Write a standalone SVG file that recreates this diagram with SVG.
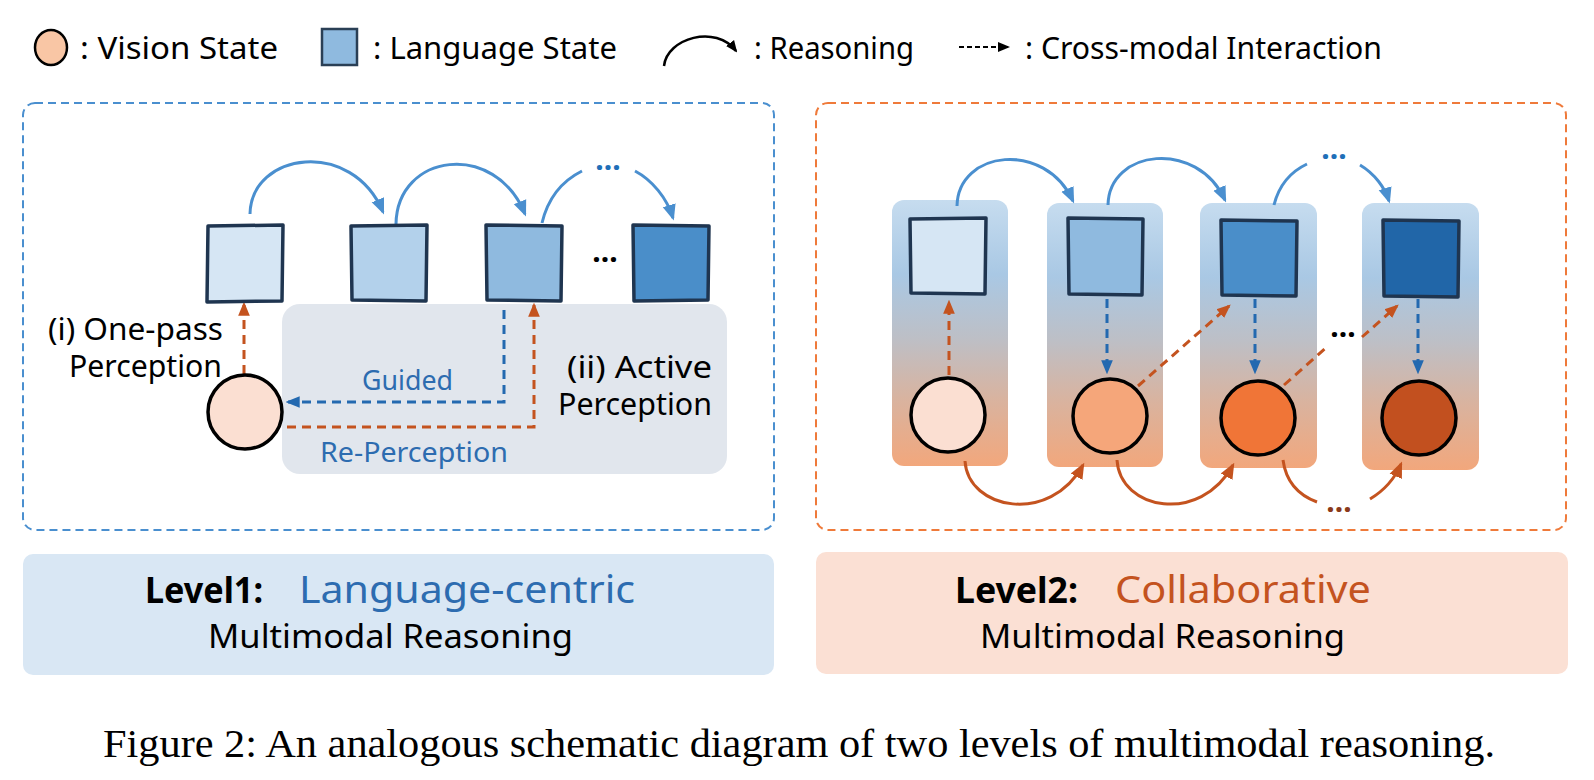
<svg xmlns="http://www.w3.org/2000/svg" width="1594" height="780" viewBox="0 0 1594 780">
<style>
.t { font-family: 'Noto Sans', 'DejaVu Sans', sans-serif; fill:#000; }
.cap { font-family: 'Liberation Serif', 'Times New Roman', serif; fill:#000; }
.sq { stroke:#1f3550; stroke-width:3.5; stroke-linejoin:round; }
.vc { stroke:#000; stroke-width:3.5; }
.arcB { fill:none; stroke:#4a8fcf; stroke-width:3; marker-end:url(#mB); }
.arcO { fill:none; stroke:#c4531f; stroke-width:3; marker-end:url(#mO); }
.arcBn { fill:none; stroke:#4a8fcf; stroke-width:3; }
.arcOn { fill:none; stroke:#c4531f; stroke-width:3; }
.dB { fill:none; stroke:#2369b0; stroke-width:3; stroke-dasharray:9 6; marker-end:url(#mDB); }
.dO { fill:none; stroke:#c4531f; stroke-width:3; stroke-dasharray:9 6; marker-end:url(#mDO); }
.dOn { fill:none; stroke:#c4531f; stroke-width:3; stroke-dasharray:9 6; }
.dots { font-family: 'Noto Sans', sans-serif; font-weight:bold; font-size:30px; text-anchor:middle; }
</style>
<defs>
<marker id="mB" viewBox="0 0 12 12" refX="10" refY="6" markerWidth="16" markerHeight="16" markerUnits="userSpaceOnUse" orient="auto"><path d="M0,1 L12,6 L0,11 Z" fill="#4a8fcf"/></marker>
<marker id="mO" viewBox="0 0 12 12" refX="10" refY="6" markerWidth="16" markerHeight="16" markerUnits="userSpaceOnUse" orient="auto"><path d="M0,1 L12,6 L0,11 Z" fill="#c4531f"/></marker>
<marker id="mDB" viewBox="0 0 12 12" refX="10" refY="6" markerWidth="14" markerHeight="14" markerUnits="userSpaceOnUse" orient="auto"><path d="M0,1 L12,6 L0,11 Z" fill="#2369b0"/></marker>
<marker id="mDO" viewBox="0 0 12 12" refX="10" refY="6" markerWidth="14" markerHeight="14" markerUnits="userSpaceOnUse" orient="auto"><path d="M0,1 L12,6 L0,11 Z" fill="#c4531f"/></marker>
<marker id="mK" viewBox="0 0 12 12" refX="10" refY="6" markerWidth="12" markerHeight="12" markerUnits="userSpaceOnUse" orient="auto"><path d="M0,1 L12,6 L0,11 Z" fill="#000"/></marker>
<linearGradient id="col" x1="0" y1="0" x2="0" y2="1">
<stop offset="0" stop-color="#c6dcef"/>
<stop offset="0.28" stop-color="#a9c8e4"/>
<stop offset="0.52" stop-color="#bdbfc6"/>
<stop offset="0.75" stop-color="#d9b39f"/>
<stop offset="1" stop-color="#f2a77c"/>
</linearGradient>
</defs>
<rect width="1594" height="780" fill="#fff"/>

<!-- legend -->
<g id="legend">
<ellipse cx="51" cy="47.5" rx="16" ry="17.5" fill="#f9c6a5" stroke="#000" stroke-width="2.5"/>
<text class="t" x="80" y="59" font-size="30" textLength="198" lengthAdjust="spacingAndGlyphs">: Vision State</text>
<rect x="322" y="29" width="35" height="36" fill="#8fbadf" stroke="#2a3f55" stroke-width="2.5"/>
<text class="t" x="373" y="59" font-size="30" textLength="244" lengthAdjust="spacingAndGlyphs">: Language State</text>
<path d="M664,66 C667,38 716,24 736,51" fill="none" stroke="#000" stroke-width="2.5" marker-end="url(#mK)"/>
<text class="t" x="754" y="59" font-size="30" textLength="160" lengthAdjust="spacingAndGlyphs">: Reasoning</text>
<path d="M959,47 L1008,47" fill="none" stroke="#000" stroke-width="2" stroke-dasharray="5 3" marker-end="url(#mK)"/>
<text class="t" x="1025" y="59" font-size="30" textLength="357" lengthAdjust="spacingAndGlyphs">: Cross-modal Interaction</text>
</g>

<!-- panel frames -->
<g id="panel1-frame">
<rect x="23" y="103" width="751" height="427" rx="12" fill="none" stroke="#4a8fcf" stroke-width="2" stroke-dasharray="8 5"/>
<rect x="282" y="304" width="445" height="170" rx="18" fill="#e1e6ed"/>
</g>
<g id="panel2-frame">
<rect x="816" y="103" width="750" height="427" rx="12" fill="none" stroke="#ef7a3a" stroke-width="2" stroke-dasharray="8 5"/>
<rect x="892" y="200" width="116" height="266" rx="12" fill="url(#col)"/>
<rect x="1047" y="203" width="116" height="264" rx="12" fill="url(#col)"/>
<rect x="1200" y="203" width="117" height="265" rx="12" fill="url(#col)"/>
<rect x="1362" y="203" width="117" height="267" rx="12" fill="url(#col)"/>
</g>

<!-- connectors -->
<g id="connectors">
<path class="arcB" d="M250,214 C251,152 352,138 383,212"/>
<path class="arcB" d="M396,224 C397,153 495,140 525,214"/>
<path class="arcBn" d="M542,223 C548,198 562,181 582,171"/>
<path class="arcB" d="M635,171 C652,180 667,198 673,218"/>
<path class="dO" d="M244,374 L244,304"/>
<path class="dB" d="M504,310 L504,402 L288,402"/>
<path class="dO" d="M287,427 L534,427 L534,305"/>

<path class="arcB" d="M957,206 C958,150 1045,140 1073,201"/>
<path class="arcB" d="M1108,205 C1109,149 1197,139 1225,200"/>
<path class="arcBn" d="M1274,205 C1279,185 1290,172 1307,164"/>
<path class="arcB" d="M1360,165 C1375,174 1385,188 1389,201"/>
<path class="arcO" d="M965,461 C968,510 1050,525 1083,465"/>
<path class="arcO" d="M1117,460 C1120,510 1200,525 1233,465"/>
<path class="arcOn" d="M1283,460 C1286,482 1298,495 1317,502"/>
<path class="arcO" d="M1370,499 C1385,490 1395,478 1401,464"/>
<path class="dO" d="M949,375 L949,302"/>
<path class="dB" d="M1107,299 L1107,372"/>
<path class="dB" d="M1255,299 L1255,372"/>
<path class="dB" d="M1418,299 L1418,372"/>
<path class="dO" d="M1138,386 L1229,306"/>
<path class="dOn" d="M1284,385 L1328,346"/>
<path class="dO" d="M1362,337 L1397,306"/>
</g>

<!-- level 1 nodes -->
<g id="L1-lang1"><path class="sq" d="M208,226 L283,225 L282,301 L207,302 Z" fill="#d6e6f4"/></g>
<g id="L1-lang2"><path class="sq" d="M351,226 L427,225 L426,301 L352,300 Z" fill="#b3d1eb"/></g>
<g id="L1-lang3"><path class="sq" d="M486,225 L562,226 L561,301 L487,300 Z" fill="#8fbadf"/></g>
<g id="L1-lang4"><path class="sq" d="M633,225 L709,226 L708,300 L634,301 Z" fill="#4a8ec9"/></g>
<g id="L1-vision"><circle class="vc" cx="245" cy="412" r="37" fill="#fbdfd2"/></g>

<g id="L1-labels">
<text class="dots" x="605" y="262" fill="#000">...</text>
<text class="dots" x="608" y="170" fill="#1f6fb8">...</text>
<text class="t" x="223" y="340" font-size="30" text-anchor="end" textLength="175" lengthAdjust="spacingAndGlyphs">(i) One-pass</text>
<text class="t" x="222" y="377" font-size="30" text-anchor="end" textLength="153" lengthAdjust="spacingAndGlyphs">Perception</text>
<text class="t" x="362" y="390" font-size="28" fill="#2d6cb0" style="fill:#2d6cb0" textLength="91" lengthAdjust="spacingAndGlyphs">Guided</text>
<text class="t" x="320" y="462" font-size="28" style="fill:#2d6cb0" textLength="188" lengthAdjust="spacingAndGlyphs">Re-Perception</text>
<text class="t" x="712" y="378" font-size="30" text-anchor="end" textLength="145" lengthAdjust="spacingAndGlyphs">(ii) Active</text>
<text class="t" x="712" y="415" font-size="30" text-anchor="end" textLength="154" lengthAdjust="spacingAndGlyphs">Perception</text>
</g>

<!-- level 2 nodes -->
<g id="L2-lang1"><path class="sq" d="M910,219 L986,218 L985,294 L911,293 Z" fill="#d6e6f4"/></g>
<g id="L2-lang2"><path class="sq" d="M1068,218 L1143,219 L1142,295 L1069,294 Z" fill="#8fbadf"/></g>
<g id="L2-lang3"><path class="sq" d="M1221,220 L1297,221 L1296,296 L1222,295 Z" fill="#4a8ec9"/></g>
<g id="L2-lang4"><path class="sq" d="M1383,220 L1459,221 L1458,297 L1384,296 Z" fill="#2166a8"/></g>
<g id="L2-vision1"><circle class="vc" cx="948" cy="415" r="37" fill="#fbdfd2"/></g>
<g id="L2-vision2"><circle class="vc" cx="1110" cy="416" r="37" fill="#f5a67a"/></g>
<g id="L2-vision3"><circle class="vc" cx="1258" cy="418" r="37" fill="#f07537"/></g>
<g id="L2-vision4"><circle class="vc" cx="1419" cy="418" r="37" fill="#c2501f"/></g>

<g id="L2-labels">
<text class="dots" x="1334" y="159" fill="#1f6fb8">...</text>
<text class="dots" x="1343" y="337" fill="#000">...</text>
<text class="dots" x="1339" y="512" fill="#8b3a1a">...</text>
</g>

<!-- bottom titles -->
<g id="title1">
<rect x="23" y="554" width="751" height="121" rx="10" fill="#d9e7f4"/>
<text class="t" x="145" y="603" font-size="36" font-weight="bold" textLength="118" lengthAdjust="spacingAndGlyphs">Level1:</text>
<text class="t" x="299" y="603" font-size="38" style="fill:#2d6cb0" textLength="336" lengthAdjust="spacingAndGlyphs">Language-centric</text>
<text class="t" x="208" y="648" font-size="32" textLength="365" lengthAdjust="spacingAndGlyphs">Multimodal Reasoning</text>
</g>
<g id="title2">
<rect x="816" y="552" width="752" height="122" rx="10" fill="#fbe0d4"/>
<text class="t" x="955" y="603" font-size="36" font-weight="bold" textLength="123" lengthAdjust="spacingAndGlyphs">Level2:</text>
<text class="t" x="1115" y="603" font-size="38" style="fill:#c4531f" textLength="256" lengthAdjust="spacingAndGlyphs">Collaborative</text>
<text class="t" x="980" y="648" font-size="32" textLength="365" lengthAdjust="spacingAndGlyphs">Multimodal Reasoning</text>
</g>

<text class="cap" x="103" y="757" font-size="40" textLength="1392" lengthAdjust="spacingAndGlyphs">Figure 2: An analogous schematic diagram of two levels of multimodal reasoning.</text>
</svg>
